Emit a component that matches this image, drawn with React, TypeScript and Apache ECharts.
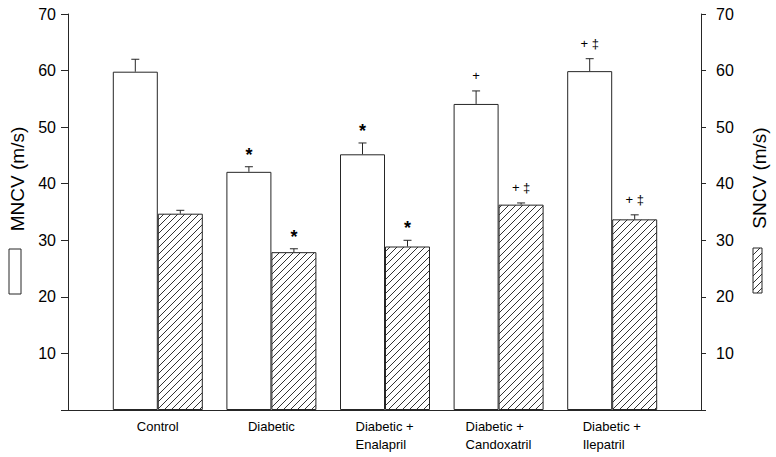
import React, { useEffect, useRef } from "react";
import * as echarts from "echarts";

const categories = ["Control", "Diabetic", "Diabetic +\nEnalapril", "Diabetic +\nCandoxatril", "Diabetic +\nIlepatril"];
const mncv = [59.8, 42.1, 45.2, 54.1, 59.9];
const mncvErr = [2.2, 0.9, 2.0, 2.3, 2.2];
const sncv = [34.7, 27.9, 28.9, 36.3, 33.7];
const sncvErr = [0.6, 0.6, 1.1, 0.3, 0.8];
const mncvNotes = ["", "*", "*", "+", "+ \u2021"];
const sncvNotes = ["", "*", "*", "+ \u2021", "+ \u2021"];
const yTicks = [10, 20, 30, 40, 50, 60, 70];

const FONT = "'Liberation Sans', Arial, sans-serif";
const INK = "#262626";
const BAR_W = 45;

function makeHatch(): HTMLCanvasElement {
  const s = 7;
  const c = document.createElement("canvas");
  c.width = s;
  c.height = s;
  const ctx = c.getContext("2d")!;
  ctx.fillStyle = "#ffffff";
  ctx.fillRect(0, 0, s, s);
  ctx.strokeStyle = "#333333";
  ctx.lineWidth = 1;
  ctx.beginPath();
  ctx.moveTo(0, s);
  ctx.lineTo(s, 0);
  ctx.moveTo(-1, 1);
  ctx.lineTo(1, -1);
  ctx.moveTo(s - 1, s + 1);
  ctx.lineTo(s + 1, s - 1);
  ctx.stroke();
  return c;
}

function measure(text: string, font: string): number {
  const c = document.createElement("canvas");
  const ctx = c.getContext("2d")!;
  ctx.font = font;
  return ctx.measureText(text).width;
}

export default function App() {
  const ref = useRef<HTMLDivElement>(null);
  useEffect(() => {
    document.body.style.margin = "0";
    if (!ref.current) return;
    const chart = echarts.init(ref.current, undefined, { renderer: "svg" });
    const hatch = makeHatch();
    const labelFont = `13px ${FONT}`;
    const rich: Record<string, any> = {};
    categories.forEach((c, i) => {
      const w = Math.max(...c.split("\n").map((l) => measure(l, labelFont)));
      rich["c" + i] = { width: Math.ceil(w), align: "left", fontSize: 13, lineHeight: 18, fontFamily: FONT, color: "#000" };
    });

    const errSeries = (vals: number[], errs: number[], notes: string[], off: number) => ({
      type: "custom",
      xAxisIndex: 0,
      yAxisIndex: 2,
      clip: false,
      z: 5,
      data: vals.map((v, i) => [i, v, errs[i]]),
      encode: { x: 0, y: 1 },
      renderItem: (params: any, api: any) => {
        const i = api.value(0);
        const v = api.value(1);
        const e = api.value(2);
        const base = api.coord([i, v]);
        const top = api.coord([i, v + e]);
        const x = base[0] + off;
        const note = notes[params.dataIndex];
        const isStar = note === "*";
        return {
          type: "group",
          children: [
            { type: "line", shape: { x1: x, y1: base[1], x2: x, y2: top[1] }, style: { stroke: INK, lineWidth: 1 } },
            { type: "line", shape: { x1: x - 4, y1: top[1], x2: x + 4, y2: top[1] }, style: { stroke: INK, lineWidth: 1 } },
            {
              type: "text",
              x,
              y: top[1] - (isStar ? 12 : 15),
              style: {
                text: note,
                textAlign: "center",
                textVerticalAlign: "middle",
                font: isStar ? `bold 18px ${FONT}` : `13px ${FONT}`,
                fill: "#000000",
              },
            },
          ],
        };
      },
    });

    const top = 14;
    const bottom = 47;
    chart.setOption({
      animation: false,
      backgroundColor: "#fff",
      grid: [
        { left: 101, right: 107, top, bottom },
        { left: 68, right: 75, top, bottom },
      ],
      xAxis: [
        {
          type: "category",
          gridIndex: 0,
          data: categories,
          axisLine: { show: false },
          axisTick: { show: false },
          axisLabel: {
            interval: 0,
            margin: 7,
            formatter: (val: string, idx: number) =>
              val.split("\n").map((l) => `{c${idx}|${l}}`).join("\n"),
            rich,
          },
        },
        {
          type: "value",
          gridIndex: 1,
          min: 0,
          max: 1,
          axisLine: { show: true, lineStyle: { color: INK, width: 1 } },
          axisTick: { show: false },
          axisLabel: { show: false },
          splitLine: { show: false },
        },
      ],
      yAxis: [
        {
          type: "value",
          gridIndex: 1,
          position: "left",
          min: 0,
          max: 70,
          interval: 10,
          axisLine: { show: true, lineStyle: { color: INK, width: 1 } },
          axisTick: { show: true, inside: false, length: 7, lineStyle: { color: INK } },
          axisLabel: {
            margin: 12,
            fontSize: 16,
            fontFamily: FONT,
            color: "#000",
            formatter: (v: number) => (yTicks.includes(v) ? String(v) : ""),
          },
          splitLine: { show: false },
        },
        {
          type: "value",
          gridIndex: 1,
          position: "right",
          min: 0,
          max: 70,
          interval: 10,
          axisLine: { show: true, lineStyle: { color: INK, width: 1 } },
          axisTick: { show: true, inside: false, length: 5, lineStyle: { color: INK } },
          axisLabel: {
            margin: 15,
            fontSize: 16,
            fontFamily: FONT,
            color: "#000",
            formatter: (v: number) => (yTicks.includes(v) ? String(v) : ""),
          },
          splitLine: { show: false },
        },
        {
          type: "value",
          gridIndex: 0,
          min: 0,
          max: 70,
          show: false,
        },
      ],
      series: [
        {
          type: "bar",
          name: "MNCV",
          xAxisIndex: 0,
          yAxisIndex: 2,
          data: mncv,
          barWidth: BAR_W,
          barGap: "0%",
          itemStyle: { color: "#ffffff", borderColor: INK, borderWidth: 1 },
        },
        {
          type: "bar",
          name: "SNCV",
          xAxisIndex: 0,
          yAxisIndex: 2,
          data: sncv,
          barWidth: BAR_W,
          barGap: "0%",
          itemStyle: { color: { image: hatch, repeat: "repeat" }, borderColor: INK, borderWidth: 1 },
        },
        errSeries(mncv, mncvErr, mncvNotes, -BAR_W / 2),
        errSeries(sncv, sncvErr, sncvNotes, BAR_W / 2),
      ],
      graphic: [
        {
          type: "text",
          x: 17,
          y: 179,
          rotation: Math.PI / 2,
          style: { text: "MNCV (m/s)", textAlign: "center", textVerticalAlign: "middle", font: `19px ${FONT}`, fill: "#000" },
        },
        {
          type: "rect",
          shape: { x: 9, y: 249, width: 12, height: 45 },
          style: { fill: "#fff", stroke: INK, lineWidth: 1 },
        },
        {
          type: "text",
          x: 759,
          y: 178,
          rotation: Math.PI / 2,
          style: { text: "SNCV (m/s)", textAlign: "center", textVerticalAlign: "middle", font: `19px ${FONT}`, fill: "#000" },
        },
        {
          type: "rect",
          shape: { x: 753, y: 248, width: 9, height: 45 },
          style: { fill: { image: hatch, repeat: "repeat" }, stroke: INK, lineWidth: 1 },
        },
      ],
    });
    return () => chart.dispose();
  }, []);
  return <div ref={ref} style={{ width: 776, height: 457 }} />;
}
